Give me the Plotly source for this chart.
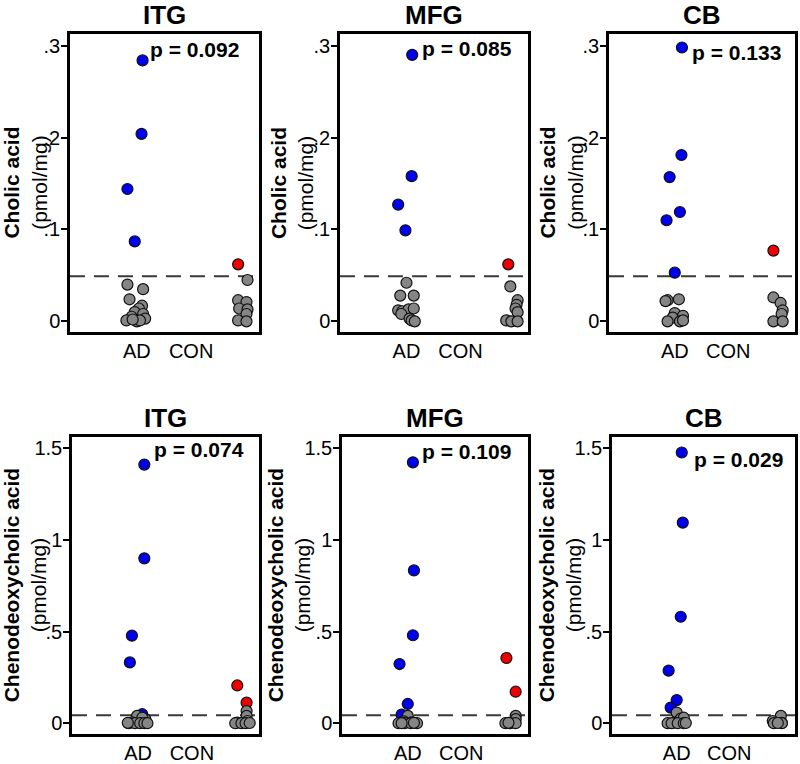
import plotly.graph_objects as go

# ---------------- data ----------------
regions = ["ITG", "MFG", "CB", "ITG", "MFG", "CB"]
p_values = ["0.092", "0.085", "0.133", "0.074", "0.109", "0.029"]
acid_names = ["Cholic acid", "Cholic acid", "Cholic acid",
              "Chenodeoxycholic acid", "Chenodeoxycholic acid", "Chenodeoxycholic acid"]
unit_label = "(pmol/mg)"
group_labels = ["AD", "CON"]
group_label_pos = [1.0, 1.52]
group_center = {"AD": 1.0, "CON": 2.0}

ca_cutoff = 0.049
cdca_cutoff = 0.043
ca_ticks = [0, 0.1, 0.2, 0.3]
ca_ticktext = ["0", ".1", ".2", ".3"]
cdca_ticks = [0, 0.5, 1, 1.5]
cdca_ticktext = ["0", ".5", "1", "1.5"]

# ITG cholic acid
itg_ca_ad_high = [0.284, 0.204, 0.144, 0.087]
itg_ca_ad_high_dx = [0.055, 0.045, -0.09, -0.02]
itg_ca_ad_low = [0.040, 0.035, 0.024, 0.017, 0.014, 0.010, 0.008, 0.005, 0.003, 0.001, 0.000, 0.001, 0.002]
itg_ca_ad_low_dx = [-0.09, 0.06, -0.07, 0.05, 0.02, -0.02, 0.06, -0.05, 0.08, -0.10, 0.00, 0.03, -0.04]
itg_ca_con_high = [0.062]
itg_ca_con_high_dx = [-0.03]
itg_ca_con_low = [0.045, 0.023, 0.021, 0.014, 0.013, 0.008, 0.001, 0.000]
itg_ca_con_low_dx = [0.06, -0.03, 0.05, -0.02, 0.06, 0.05, -0.03, 0.05]

# MFG cholic acid
mfg_ca_ad_high = [0.290, 0.158, 0.127, 0.099]
mfg_ca_ad_high_dx = [0.055, 0.05, -0.08, -0.01]
mfg_ca_ad_low = [0.042, 0.028, 0.028, 0.012, 0.011, 0.013, 0.014, 0.008, 0.003, 0.001, 0.000]
mfg_ca_ad_low_dx = [0.0, -0.06, 0.07, -0.08, -0.04, 0.02, 0.07, -0.05, 0.03, 0.05, 0.08]
mfg_ca_con_high = [0.062]
mfg_ca_con_high_dx = [-0.02]
mfg_ca_con_low = [0.038, 0.023, 0.018, 0.014, 0.010, 0.001, 0.000, 0.000]
mfg_ca_con_low_dx = [0.0, 0.07, 0.06, 0.05, 0.07, -0.04, 0.01, 0.07]

# CB cholic acid
cb_ca_ad_high = [0.298, 0.181, 0.157, 0.119, 0.110, 0.053]
cb_ca_ad_high_dx = [0.07, 0.065, -0.05, 0.05, -0.08, 0.0]
cb_ca_ad_low = [0.023, 0.024, 0.022, 0.009, 0.006, 0.004, 0.000, 0.000, 0.001]
cb_ca_ad_low_dx = [-0.07, 0.04, -0.09, 0.0, 0.08, -0.02, -0.07, 0.05, 0.08]
cb_ca_con_high = [0.077]
cb_ca_con_high_dx = [-0.04]
cb_ca_con_low = [0.026, 0.020, 0.012, 0.008, 0.000, 0.000]
cb_ca_con_low_dx = [-0.04, 0.03, 0.05, 0.04, -0.04, 0.05]

# ITG chenodeoxycholic acid
itg_cdca_ad_high = [1.412, 0.900, 0.478, 0.332, 0.049]
itg_cdca_ad_high_dx = [0.06, 0.06, -0.06, -0.08, 0.04]
itg_cdca_ad_low = [0.040, 0.022, 0.030, 0.004, 0.000, 0.000, 0.000, 0.000, 0.000, 0.002]
itg_cdca_ad_low_dx = [-0.01, 0.07, 0.04, -0.06, -0.09, -0.03, 0.02, 0.06, 0.09, -0.10]
itg_cdca_con_high = [0.206, 0.112]
itg_cdca_con_high_dx = [-0.04, 0.05]
itg_cdca_con_low = [0.066, 0.040, 0.012, 0.003, 0.000, 0.000, 0.000, 0.001]
itg_cdca_con_low_dx = [0.05, 0.05, 0.06, -0.04, -0.06, 0.0, 0.04, 0.08]

# MFG chenodeoxycholic acid
mfg_cdca_ad_high = [1.424, 0.834, 0.480, 0.323, 0.105, 0.047]
mfg_cdca_ad_high_dx = [0.05, 0.06, 0.05, -0.08, 0.0, -0.06]
mfg_cdca_ad_low = [0.040, 0.010, 0.005, 0.000, 0.000, 0.000, 0.000, 0.000, 0.002]
mfg_cdca_ad_low_dx = [0.0, -0.04, 0.04, -0.09, -0.03, 0.03, 0.09, -0.06, 0.06]
mfg_cdca_con_high = [0.356, 0.172]
mfg_cdca_con_high_dx = [-0.04, 0.05]
mfg_cdca_con_low = [0.040, 0.022, 0.000, 0.000, 0.000, 0.002]
mfg_cdca_con_low_dx = [0.05, 0.05, -0.05, 0.0, 0.05, -0.02]

# CB chenodeoxycholic acid
cb_cdca_ad_high = [1.478, 1.095, 0.581, 0.287, 0.126, 0.085]
cb_cdca_ad_high_dx = [0.05, 0.06, 0.04, -0.08, 0.0, -0.06]
cb_cdca_ad_low = [0.058, 0.025, 0.030, 0.003, 0.000, 0.000, 0.000, 0.000, 0.001]
cb_cdca_ad_low_dx = [0.0, 0.04, 0.07, -0.03, -0.09, -0.05, 0.01, 0.07, 0.09]
cb_cdca_con_high = []
cb_cdca_con_high_dx = []
cb_cdca_con_low = [0.040, 0.012, 0.002, 0.000, 0.000, 0.001]
cb_cdca_con_low_dx = [0.03, -0.05, 0.04, -0.04, 0.04, 0.0]

panel_data = [
    (itg_ca_ad_high, itg_ca_ad_high_dx, itg_ca_ad_low, itg_ca_ad_low_dx,
     itg_ca_con_high, itg_ca_con_high_dx, itg_ca_con_low, itg_ca_con_low_dx),
    (mfg_ca_ad_high, mfg_ca_ad_high_dx, mfg_ca_ad_low, mfg_ca_ad_low_dx,
     mfg_ca_con_high, mfg_ca_con_high_dx, mfg_ca_con_low, mfg_ca_con_low_dx),
    (cb_ca_ad_high, cb_ca_ad_high_dx, cb_ca_ad_low, cb_ca_ad_low_dx,
     cb_ca_con_high, cb_ca_con_high_dx, cb_ca_con_low, cb_ca_con_low_dx),
    (itg_cdca_ad_high, itg_cdca_ad_high_dx, itg_cdca_ad_low, itg_cdca_ad_low_dx,
     itg_cdca_con_high, itg_cdca_con_high_dx, itg_cdca_con_low, itg_cdca_con_low_dx),
    (mfg_cdca_ad_high, mfg_cdca_ad_high_dx, mfg_cdca_ad_low, mfg_cdca_ad_low_dx,
     mfg_cdca_con_high, mfg_cdca_con_high_dx, mfg_cdca_con_low, mfg_cdca_con_low_dx),
    (cb_cdca_ad_high, cb_cdca_ad_high_dx, cb_cdca_ad_low, cb_cdca_ad_low_dx,
     cb_cdca_con_high, cb_cdca_con_high_dx, cb_cdca_con_low, cb_cdca_con_low_dx),
]

# ---------------- layout geometry ----------------
W, H = 800, 764
x_domains = [(70, 259), (340, 528), (609, 795), (72, 259), (342, 528), (612, 795)]
y_frames = [(34, 335)] * 3 + [(440, 740)] * 3
ytitle_x = [25.5, 292, 561.5, 25, 289, 560]
p_pos = [(0.413, 0.947), (0.426, 0.95), (0.435, 0.937),
         (0.428, 0.957), (0.419, 0.95), (0.437, 0.923)]

FONT = "Liberation Sans, Arial, Helvetica, sans-serif"
BLUE = "#0000f0"
RED = "#ee0000"
GRAY = "#858585"
EDGE = "#111111"

fig = go.Figure()
layout = dict(width=W, height=H, margin=dict(l=0, r=0, t=0, b=0),
              paper_bgcolor="white", plot_bgcolor="white", showlegend=False,
              font=dict(family=FONT, color="black"))
shapes = []
annotations = []

for i in range(6):
    n = i + 1
    xa = "xaxis" if n == 1 else f"xaxis{n}"
    ya = "yaxis" if n == 1 else f"yaxis{n}"
    xr = "x" if n == 1 else f"x{n}"
    yr = "y" if n == 1 else f"y{n}"
    top = i < 3
    x0, x1 = x_domains[i]
    yt, yb = y_frames[i]
    layout[xa] = dict(domain=[x0 / W, x1 / W], anchor=yr, range=[0.36, 2.17],
                      tickmode="array", tickvals=group_label_pos, ticktext=group_labels,
                      ticks="outside", ticklen=1, tickcolor="rgba(0,0,0,0)",
                      ticklabelstandoff=-2,
                      tickfont=dict(size=20, family=FONT), showgrid=False, zeroline=False,
                      showline=True, mirror=True, linewidth=2.5, linecolor="black",
                      fixedrange=True)
    layout[ya] = dict(domain=[1 - yb / H, 1 - yt / H], anchor=xr,
                      range=[-0.012, 0.313] if top else [-0.06, 1.565],
                      tickmode="array",
                      tickvals=ca_ticks if top else cdca_ticks,
                      ticktext=ca_ticktext if top else cdca_ticktext,
                      ticks="outside", ticklen=6, tickwidth=1.5, tickcolor="black",
                      ticklabelstandoff=-3,
                      tickfont=dict(size=20, family=FONT), showgrid=False, zeroline=False,
                      showline=True, mirror=True, linewidth=2.5, linecolor="black",
                      fixedrange=True)

    ad_hi, ad_hi_dx, ad_lo, ad_lo_dx, con_hi, con_hi_dx, con_lo, con_lo_dx = panel_data[i]
    groups = [
        (ad_hi, ad_hi_dx, "AD", BLUE),
        (con_hi, con_hi_dx, "CON", RED),
        (ad_lo, ad_lo_dx, "AD", GRAY),
        (con_lo, con_lo_dx, "CON", GRAY),
    ]
    for vals, dxs, g, col in groups:
        if not vals:
            continue
        fig.add_trace(go.Scatter(
            x=[group_center[g] + d for d in dxs], y=vals, mode="markers",
            xaxis=xr, yaxis=yr, cliponaxis=False,
            marker=dict(size=11, color=col, line=dict(color=EDGE, width=1.2)),
            hoverinfo="skip"))

    cutoff = ca_cutoff if top else cdca_cutoff
    shapes.append(dict(type="line", xref=f"{xr} domain", yref=yr, x0=0, x1=1,
                       y0=cutoff, y1=cutoff, layer="below",
                       line=dict(color="#3a3a3a", width=2, dash="15px,9px")))

    # panel title
    annotations.append(dict(text=f"<b>{regions[i]}</b>", xref="paper", yref="paper",
                            x=(x0 + x1) / 2 / W, y=1 - ((15 if top else 421.5) / H),
                            xanchor="center", yanchor="middle", showarrow=False,
                            font=dict(size=26, family=FONT)))
    # p value
    px, py = p_pos[i]
    annotations.append(dict(text=f"<b>p = {p_values[i]}</b>", xref=f"{xr} domain",
                            yref=f"{yr} domain", x=px, y=py, xanchor="left",
                            yanchor="middle", showarrow=False,
                            font=dict(size=21, family=FONT)))
    # y title
    annotations.append(dict(text=f"<b>{acid_names[i]}</b><br>{unit_label}",
                            xref="paper", yref="paper", x=ytitle_x[i] / W,
                            y=1 - ((yt + yb) / 2) / H, xanchor="center", yanchor="middle",
                            textangle=-90, showarrow=False,
                            font=dict(size=21, family=FONT)))

layout["shapes"] = shapes
layout["annotations"] = annotations
fig.update_layout(**layout)
fig.write_html("out.html", config={"displayModeBar": False},
               post_script="document.body.style.margin='0';"
                           "document.body.style.overflow='hidden';")
